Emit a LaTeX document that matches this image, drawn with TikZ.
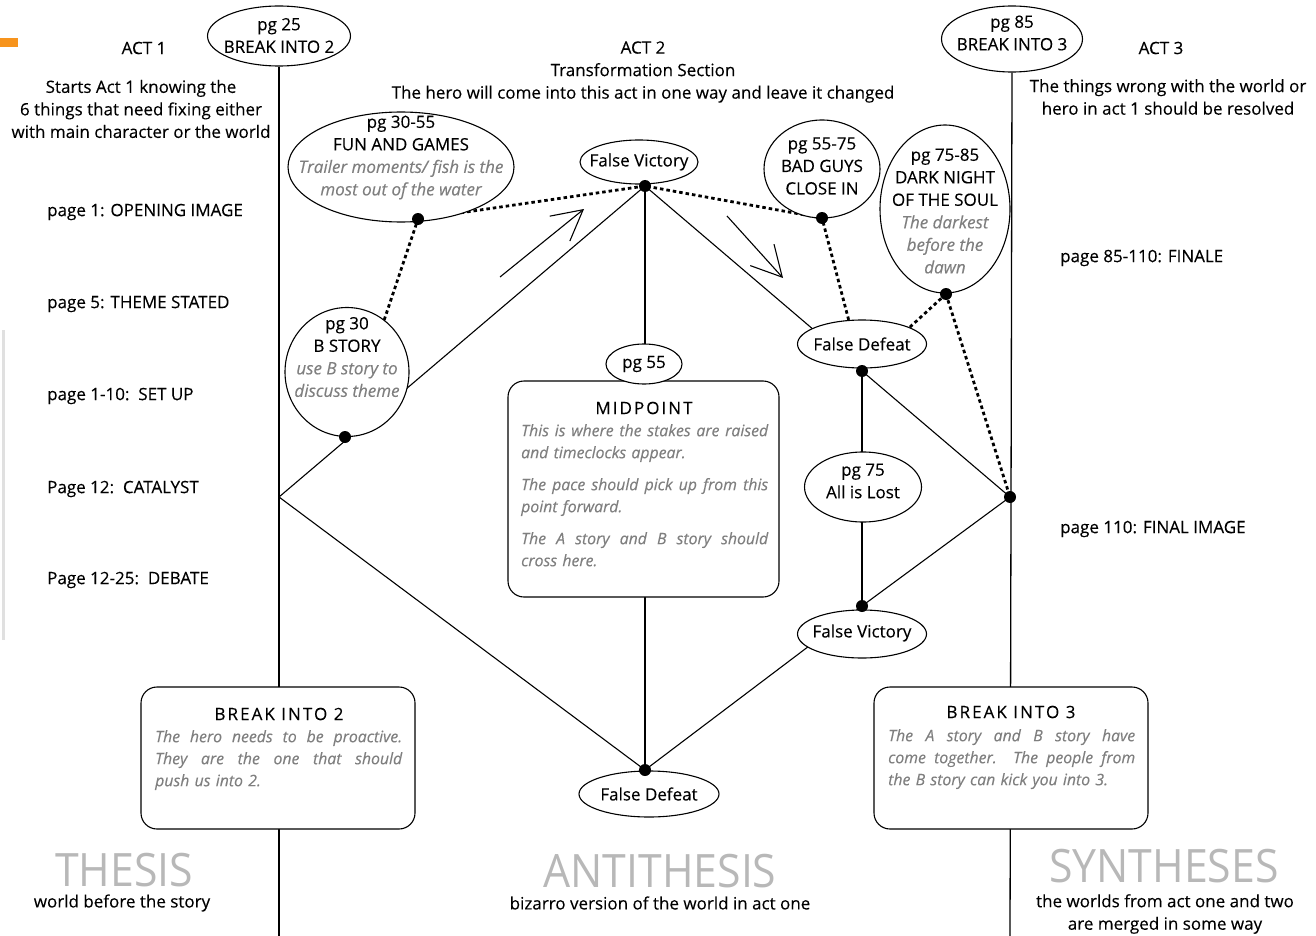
\documentclass[tikz,border=0pt]{standalone}
\usepackage{fontspec}
\setmainfont{Open Sans}[FakeBold=0.2]
\newfontfamily\thinfont{Open Sans}[FakeStretch=0.93]
\usetikzlibrary{shapes.geometric,arrows.meta}
\definecolor{notegray}{HTML}{7F7F7F}
\definecolor{thesisgray}{HTML}{B8B8B8}
\definecolor{taborange}{HTML}{F7941D}
\hyphenpenalty=10000
\parindent=0pt
\newcommand{\bodyfont}{\fontsize{17}{22.5}\selectfont}
\newcommand{\cardfont}{\fontsize{15.8}{22}\selectfont}
\newcommand{\spaced}[1]{{\addfontfeature{LetterSpace=12}#1}}
\newcommand{\gnote}[1]{{\color{notegray}\itshape #1}}
\newcommand{\fullline}[1]{{\spaceskip=0pt\xspaceskip=0pt\makebox[247pt][s]{#1}}}

\begin{document}
\begin{tikzpicture}[x=1pt,y=-1pt,
    txt/.style={font=\bodyfont, inner sep=0pt, align=center},
    note/.style={inner sep=0pt, text=notegray, font=\cardfont\itshape, text width=247pt, align=left, anchor=north west},
    ell/.style={draw, ellipse, fill=white, line width=1.1pt, inner sep=0pt},
    card/.style={draw, rounded corners=16pt, fill=white, line width=1.1pt, inner sep=0pt},
    dot/.style={circle, fill=black, inner sep=0pt, minimum size=12pt},
    link/.style={line width=1.1pt},
    beat/.style={line width=2.8pt, dash pattern=on 3.5pt off 3pt},
    big/.style={text=thesisgray, font=\thinfont\fontsize{46}{46}\selectfont, inner sep=0pt, text depth=0pt, anchor=base}]

  \useasboundingbox (0,0) rectangle (1316,936);
  \fill[taborange] (0,38) rectangle (18,47);
  \draw[black!12, line width=3pt] (3,330) -- (3,640);

  \coordinate (catalyst) at (279,497);
  \coordinate (bot1) at (279,936);
  \coordinate (bot3) at (1010,936);
  \coordinate (dbs) at (345,437);
  \coordinate (dfun) at (418,219);
  \coordinate (dfv) at (645,186);
  \coordinate (dbad) at (822,218);
  \coordinate (ddark) at (946,294);
  \coordinate (dfd) at (862,371);
  \coordinate (dres) at (1010,497);
  \coordinate (dfv2) at (862,606);
  \coordinate (dfd2) at (645,770);
  \coordinate (upA) at (500,277);
  \coordinate (upB) at (584,209);
  \coordinate (downA) at (727,216);
  \coordinate (downB) at (783,278);

  \node[ell, minimum width=143pt, minimum height=60pt] (bk2) at (279,36) {};
  \node[ell, minimum width=141pt, minimum height=66pt] (bk3) at (1012,39) {};

  \draw[line width=1.3pt] (bk2.south) -- (bot1);
  \draw[line width=1.3pt] (bk3.south) -- (bot3);
  \draw[link] (catalyst) -- (dfv);
  \draw[link] (catalyst) -- (dfd2);
  \draw[link] (dfv) -- (dfd2);
  \draw[link] (dfv) -- (dfd);
  \draw[link] (dfd) -- (dres) -- (dfv2) -- (dfd2);
  \draw[link] (dfd) -- (dfv2);
  \draw[beat] (dbs) -- (dfun) -- (dfv) -- (dbad) -- (dfd);
  \draw[beat] (ddark) -- (dfd);
  \draw[beat] (ddark) -- (dres);
  \draw[link, -{Straight Barb[length=30pt,width=32pt]}] (upA) -- (upB);
  \draw[link, -{Straight Barb[length=30pt,width=32pt]}] (downA) -- (downB);

  \node[ell, minimum width=226pt, minimum height=110pt] (fun) at (401,167) {};
  \node[ell, minimum width=118pt, minimum height=44pt] (fv1) at (639,162) {};
  \node[ell, minimum width=116pt, minimum height=98pt] (bad) at (822,169) {};
  \node[ell, minimum width=130pt, minimum height=168pt] (dark) at (945,209) {};
  \node[ell, minimum width=124pt, minimum height=129pt] (bst) at (347,372) {};
  \node[ell, minimum width=129pt, minimum height=48pt] (fd1) at (862,344) {};
  \node[ell, minimum width=117pt, minimum height=70pt] (lost) at (863,487) {};
  \node[ell, minimum width=129pt, minimum height=48pt] (fv2) at (862,634) {};
  \node[ell, minimum width=140pt, minimum height=46pt] (fd2) at (649,794) {};

  \node[card, minimum width=271pt, minimum height=216pt] (mid) at (643.5,489) {};
  \node[ell, minimum width=76pt, minimum height=40pt] (p55) at (644,364) {};
  \node[card, minimum width=274pt, minimum height=142pt] (card2) at (278,758) {};
  \node[card, minimum width=274pt, minimum height=142pt] (card3) at (1011,758) {};

  \node[txt] (bk2t) at (279,35.5) {pg 25\\BREAK INTO 2};
  \node[txt] (bk3t) at (1012,33) {pg 85\\BREAK INTO 3};
  \node[txt] (funt) at (401,157.5) {pg 30-55\\FUN AND GAMES\\\gnote{Trailer moments/ fish is the}\\\gnote{most out of the water}};
  \node[txt] (fv1t) at (639,162) {False Victory};
  \node[txt] (badt) at (822,166) {pg 55-75\\BAD GUYS\\CLOSE IN};
  \node[txt] (darkt) at (945,211) {pg 75-85\\DARK NIGHT\\OF THE SOUL\\\gnote{The darkest}\\\gnote{before the}\\\gnote{dawn}};
  \node[txt] (bstt) at (347,357) {pg 30\\B STORY\\\gnote{use B story to}\\\gnote{discuss theme}};
  \node[txt] (p55t) at (644,364) {pg 55};
  \node[txt] (fd1t) at (862,344) {False Defeat};
  \node[txt] (lostt) at (863,481) {pg 75\\All is Lost};
  \node[txt] (fv2t) at (862,633) {False Victory};
  \node[txt] (fd2t) at (649,794) {False Defeat};

  \node[dot] (bsdot) at (dbs) {};
  \node[dot] (fundot) at (dfun) {};
  \node[dot] (fvdot) at (dfv) {};
  \node[dot] (baddot) at (dbad) {};
  \node[dot] (darkdot) at (ddark) {};
  \node[dot] (fddot) at (dfd) {};
  \node[dot] (resdot) at (dres) {};
  \node[dot] (fv2dot) at (dfv2) {};
  \node[dot] (fd2dot) at (dfd2) {};

  \node[txt] (midtitle) at (644,408) {\spaced{MIDPOINT}};
  \node[note] (midtxt) at (521,424) {\fullline{This is where the stakes are raised}\\and timeclocks appear.\\[10pt]\fullline{The pace should pick up from this}\\point forward.\\[10pt]\fullline{The A story and B story should}\\cross here.};
  \node[txt] (card2title) at (279,714) {\spaced{BREAK INTO 2}};
  \node[note] (card2txt) at (155,730) {\fullline{The hero needs to be proactive.}\\\fullline{They are the one that should}\\push us into 2.};
  \node[txt] (card3title) at (1011,712) {\spaced{BREAK INTO 3}};
  \node[note] (card3txt) at (888,729) {\fullline{The A story and B story have}\\\fullline{come together.\ \ The people from}\\the B story can kick you into 3.};

  \node[txt] (act1) at (144,48) {ACT 1};
  \node[txt] (act1txt) at (141,109) {Starts Act 1 knowing the\\6 things that need fixing either\\with main character or the world};
  \node[txt] (act2) at (643,72) {ACT 2\\Transformation Section\\The hero will come into this act in one way and leave it changed};
  \node[txt] (act3) at (1161,48) {ACT 3};
  \node[txt] (act3txt) at (1168,97) {The things wrong with the world or\\hero in act 1 should be resolved};

  \node[txt, anchor=west] (pg1) at (47,212) {page 1: OPENING IMAGE};
  \node[txt, anchor=west] (pg5) at (47,304) {page 5: THEME STATED};
  \node[txt, anchor=west] (pg10) at (47,396) {page 1-10:\ \ SET UP};
  \node[txt, anchor=west] (pg12) at (47,489) {Page 12:\ \ CATALYST};
  \node[txt, anchor=west] (pg25) at (47,580) {Page 12-25:\ \ DEBATE};
  \node[txt, anchor=west] (pg85) at (1060,258) {page 85-110: FINALE};
  \node[txt, anchor=west] (pg110) at (1060,529) {page 110: FINAL IMAGE};

  \node[big] (thesis) at (124,886) {THESIS};
  \node[txt] (thesistxt) at (122,903) {world before the story};
  \node[big] (anti) at (660,887) {ANTITHESIS};
  \node[txt] (antitxt) at (660,903) {bizarro version of the world in act one};
  \node[big] (synth) at (1164,882) {SYNTHESES};
  \node[txt] (synthtxt) at (1165,914) {the worlds from act one and two\\are merged in some way};
\end{tikzpicture}
\end{document}
